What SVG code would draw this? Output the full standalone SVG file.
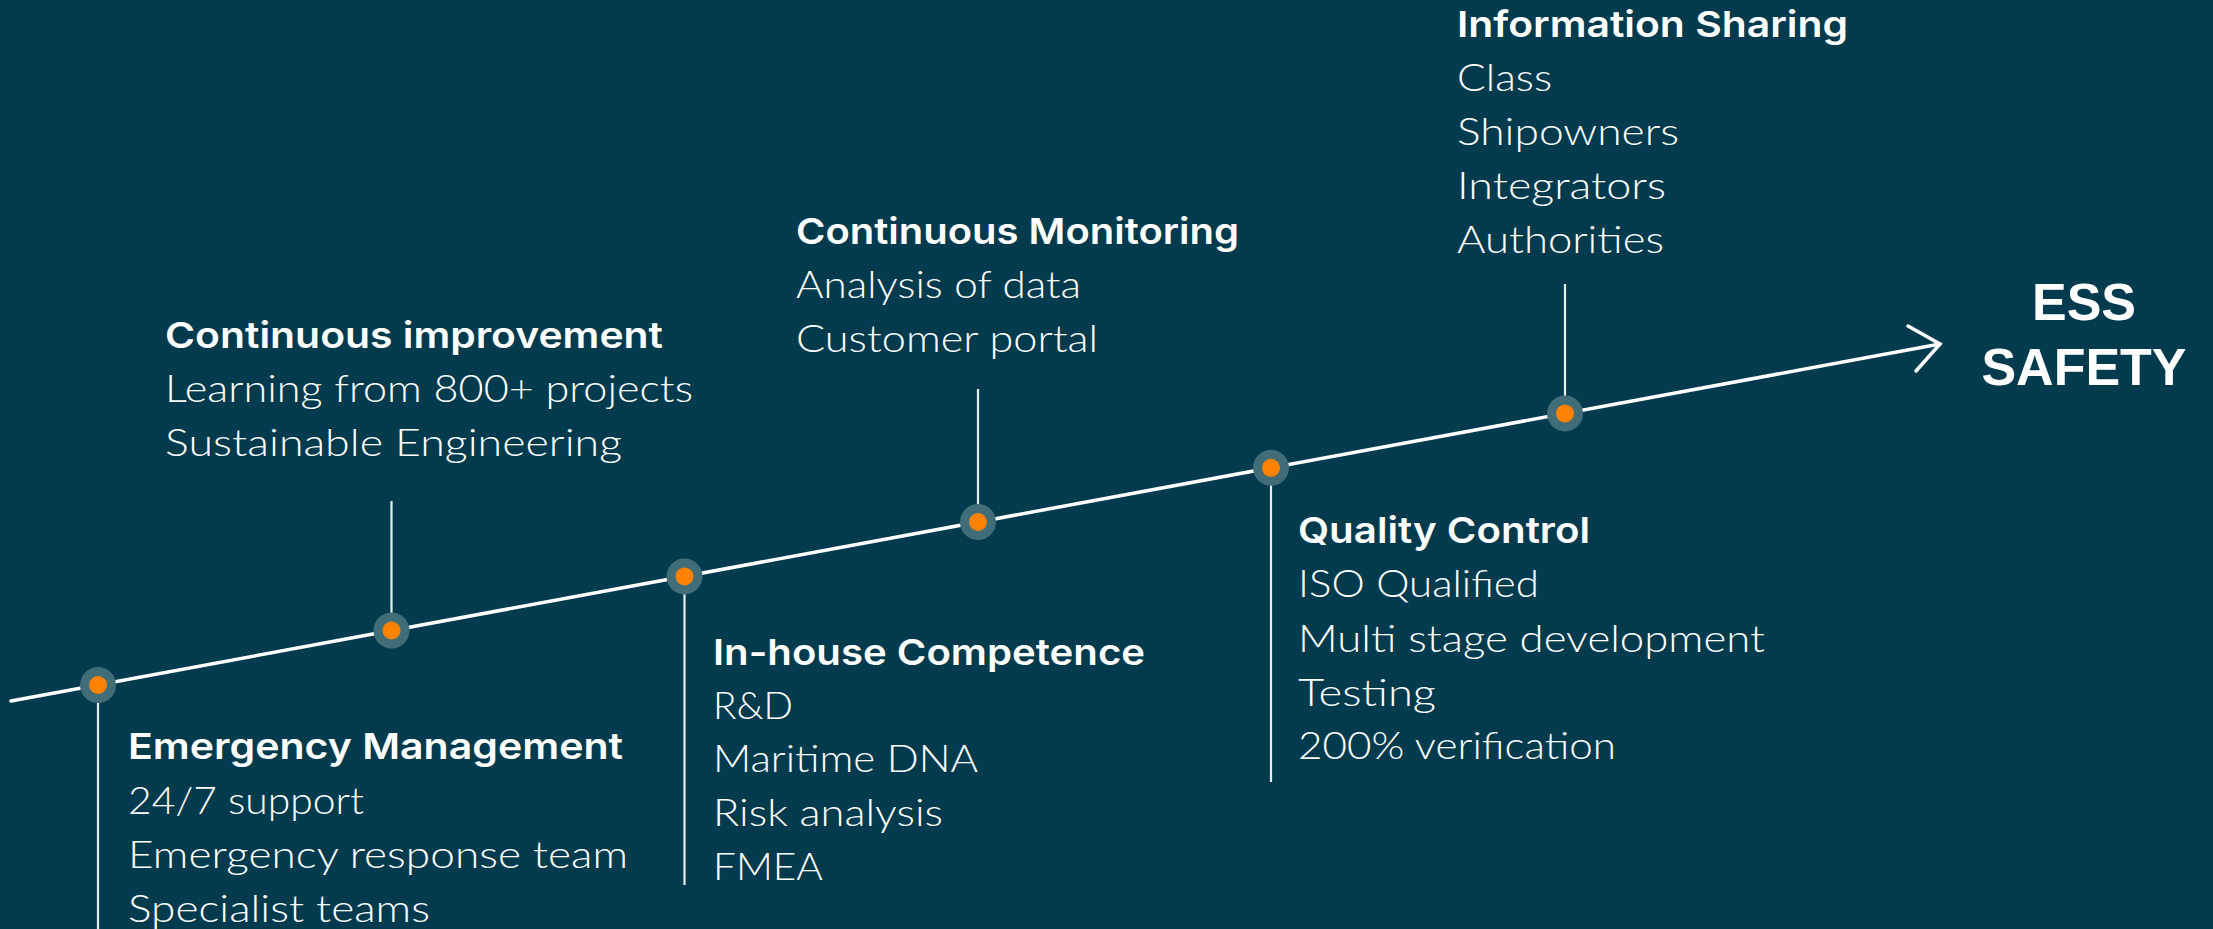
<svg xmlns="http://www.w3.org/2000/svg" width="2213" height="929" viewBox="0 0 2213 929">
  <style>
    .bg { fill: #023b4d; }
    .axis { stroke: #ffffff; stroke-width: 3.5; fill: none; stroke-linecap: round; }
    .stem { stroke: #e8eef0; stroke-width: 2.2; }
    .halo { fill: #416d79; }
    .dot { fill: #ff8200; }
    .head { font-family: Inter, "Open Sans", "Liberation Sans", sans-serif; font-weight: 600; font-size: 36px; fill: #ffffff; }
    .item { font-family: Lato, "Open Sans", "Liberation Sans", sans-serif; font-weight: 300; font-size: 37px; fill: #ffffff; }
    .goal { font-family: "Liberation Sans", Arial, sans-serif; font-weight: 700; font-size: 52px; fill: #ffffff; text-anchor: middle; }
  </style>

  <rect class="bg" x="0" y="0" width="2213" height="929"/>

  <!-- timeline axis and arrowhead -->
  <g id="connectors">
    <line class="axis" x1="11" y1="701" x2="1940" y2="344"/>
    <polyline class="axis" points="1908,326 1940,344 1916,371"/>
    <line class="stem" x1="98" y1="685" x2="98" y2="929"/>
    <line class="stem" x1="391.5" y1="501" x2="391.5" y2="630"/>
    <line class="stem" x1="684.5" y1="576" x2="684.5" y2="885"/>
    <line class="stem" x1="978" y1="389" x2="978" y2="522"/>
    <line class="stem" x1="1271" y1="468" x2="1271" y2="782"/>
    <line class="stem" x1="1565" y1="284" x2="1565" y2="413"/>
  </g>

  <!-- milestone 1 -->
  <g id="emergency-management">
    <circle class="halo" cx="98" cy="685" r="18"/>
    <circle class="dot" cx="98" cy="685" r="9"/>
    <text class="head" x="128" y="759" textLength="495" lengthAdjust="spacingAndGlyphs">Emergency Management</text>
    <text class="item" x="128" y="814" textLength="236" lengthAdjust="spacingAndGlyphs">24/7 support</text>
    <text class="item" x="128" y="868" textLength="500" lengthAdjust="spacingAndGlyphs">Emergency response team</text>
    <text class="item" x="128" y="922" textLength="302" lengthAdjust="spacingAndGlyphs">Specialist teams</text>
  </g>

  <!-- milestone 2 -->
  <g id="continuous-improvement">
    <circle class="halo" cx="391.5" cy="630.5" r="18"/>
    <circle class="dot" cx="391.5" cy="630.5" r="9"/>
    <text class="head" x="165" y="348" textLength="498" lengthAdjust="spacingAndGlyphs">Continuous improvement</text>
    <text class="item" x="165" y="402" textLength="528" lengthAdjust="spacingAndGlyphs">Learning from 800+ projects</text>
    <text class="item" x="165" y="456" textLength="457" lengthAdjust="spacingAndGlyphs">Sustainable Engineering</text>
  </g>

  <!-- milestone 3 -->
  <g id="in-house-competence">
    <circle class="halo" cx="684.5" cy="576.4" r="18"/>
    <circle class="dot" cx="684.5" cy="576.4" r="9"/>
    <text class="head" x="713" y="665" textLength="432" lengthAdjust="spacingAndGlyphs">In-house Competence</text>
    <text class="item" x="713" y="719" textLength="80" lengthAdjust="spacingAndGlyphs">R&amp;D</text>
    <text class="item" x="713" y="772" textLength="265" lengthAdjust="spacingAndGlyphs">Maritime DNA</text>
    <text class="item" x="713" y="826" textLength="230" lengthAdjust="spacingAndGlyphs">Risk analysis</text>
    <text class="item" x="713" y="880" textLength="110" lengthAdjust="spacingAndGlyphs">FMEA</text>
  </g>

  <!-- milestone 4 -->
  <g id="continuous-monitoring">
    <circle class="halo" cx="978" cy="522" r="18"/>
    <circle class="dot" cx="978" cy="522" r="9"/>
    <text class="head" x="796" y="244" textLength="443" lengthAdjust="spacingAndGlyphs">Continuous Monitoring</text>
    <text class="item" x="796" y="298" textLength="285" lengthAdjust="spacingAndGlyphs">Analysis of data</text>
    <text class="item" x="796" y="352" textLength="302" lengthAdjust="spacingAndGlyphs">Customer portal</text>
  </g>

  <!-- milestone 5 -->
  <g id="quality-control">
    <circle class="halo" cx="1271" cy="467.8" r="18"/>
    <circle class="dot" cx="1271" cy="467.8" r="9"/>
    <text class="head" x="1298" y="543" textLength="292" lengthAdjust="spacingAndGlyphs">Quality Control</text>
    <text class="item" x="1298" y="597" textLength="241" lengthAdjust="spacingAndGlyphs">ISO Qualified</text>
    <text class="item" x="1298" y="652" textLength="467" lengthAdjust="spacingAndGlyphs">Multi stage development</text>
    <text class="item" x="1298" y="706" textLength="138" lengthAdjust="spacingAndGlyphs">Testing</text>
    <text class="item" x="1298" y="759" textLength="318" lengthAdjust="spacingAndGlyphs">200% verification</text>
  </g>

  <!-- milestone 6 -->
  <g id="information-sharing">
    <circle class="halo" cx="1565" cy="413.4" r="18"/>
    <circle class="dot" cx="1565" cy="413.4" r="9"/>
    <text class="head" x="1457" y="37" textLength="391" lengthAdjust="spacingAndGlyphs">Information Sharing</text>
    <text class="item" x="1457" y="91" textLength="95" lengthAdjust="spacingAndGlyphs">Class</text>
    <text class="item" x="1457" y="145" textLength="222" lengthAdjust="spacingAndGlyphs">Shipowners</text>
    <text class="item" x="1457" y="199" textLength="209" lengthAdjust="spacingAndGlyphs">Integrators</text>
    <text class="item" x="1457" y="253" textLength="207" lengthAdjust="spacingAndGlyphs">Authorities</text>
  </g>

  <!-- goal label -->
  <g id="ess-safety">
    <text class="goal" x="2084" y="320">ESS</text>
    <text class="goal" x="2084" y="385">SAFETY</text>
  </g>
</svg>
